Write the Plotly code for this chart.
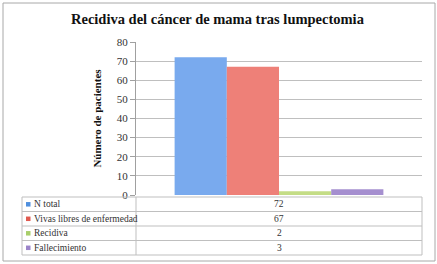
import plotly.graph_objects as go

# ---- data ----
series_names = ["N total", "Vivas libres de enfermedad", "Recidiva", "Fallecimiento"]
series_values = [72, 67, 2, 3]
category = [""]
y_ticks = [0, 10, 20, 30, 40, 50, 60, 70, 80]
title_text = "Recidiva del cáncer de mama tras lumpectomia"
y_title = "Número de pacientes"

bar_colors = ["#79AAEE", "#EE8078", "#C4DD86", "#A58FCF"]
key_colors = ["#4F8FDE", "#E05A50", "#A8CE6A", "#9B84C9"]

W, H = 437, 264
L, R, T, B = 136, 422, 42, 195  # plot area in pixels

def px(x):
    return (x - L) / (R - L)

def py(y):
    return (B - y) / (B - T)

FONT = "Liberation Serif"

fig = go.Figure()
for name, val, col in zip(series_names, series_values, bar_colors):
    fig.add_trace(go.Bar(x=category, y=[val], name=name, marker=dict(color=col, line=dict(width=0)),
                         showlegend=False))

shapes = []
annotations = []
grey = "#BFBFBF"

# outer border
shapes.append(dict(type="rect", xref="paper", yref="paper", x0=px(3), x1=px(435), y0=py(3), y1=py(261),
                   line=dict(color="#A8A8A8", width=1), layer="below"))

# table
row_y = [197, 211.5, 226, 240.5, 255]
tab_left, tab_sep, tab_right = 22, 136, 422
for yy in row_y:
    shapes.append(dict(type="line", xref="paper", yref="paper", x0=px(tab_left), x1=px(tab_right),
                       y0=py(yy), y1=py(yy), line=dict(color=grey, width=1)))
for xx in [tab_left, tab_sep, tab_right]:
    shapes.append(dict(type="line", xref="paper", yref="paper", x0=px(xx), x1=px(xx),
                       y0=py(row_y[0]), y1=py(row_y[-1]), line=dict(color=grey, width=1)))

for i, (name, val, kc) in enumerate(zip(series_names, series_values, key_colors)):
    yc = (row_y[i] + row_y[i + 1]) / 2
    shapes.append(dict(type="rect", xref="paper", yref="paper", x0=px(26), x1=px(30.5),
                       y0=py(yc + 2.3), y1=py(yc - 2.2), line=dict(width=0), fillcolor=kc))
    annotations.append(dict(text=name, xref="paper", yref="paper", x=px(31.5), y=py(yc),
                            xanchor="left", yanchor="middle", showarrow=False,
                            font=dict(family=FONT, size=9.5, color="#333333")))
    annotations.append(dict(text=str(val), xref="paper", yref="paper", x=px((tab_sep + tab_right) / 2), y=py(yc),
                            xanchor="center", yanchor="middle", showarrow=False,
                            font=dict(family=FONT, size=9.5, color="#333333")))

annotations.append(dict(text="<b>" + title_text + "</b>", xref="paper", yref="paper",
                        x=px(218), y=py(19), xanchor="center", yanchor="middle", showarrow=False,
                        font=dict(family=FONT, size=14.5, color="#111111")))

fig.update_layout(
    width=W, height=H,
    margin=dict(l=L, r=W - R, t=T, b=H - B),
    paper_bgcolor="white", plot_bgcolor="white",
    barmode="group", bargap=0.27, bargroupgap=0,
    xaxis=dict(showticklabels=False, showgrid=False, zeroline=False, showline=False, ticks=""),
    yaxis=dict(range=[0, 80], tickvals=y_ticks, showgrid=True, gridcolor=grey, gridwidth=1,
               showline=True, linecolor="#A0A0A0", linewidth=1, ticks="outside", ticklen=5,
               tickcolor="#A0A0A0", zeroline=False,
               tickfont=dict(family=FONT, size=11, color="#333333"),
               title=dict(text="<b>" + y_title + "</b>", standoff=12,
                          font=dict(family=FONT, size=11, color="#111111"))),
    shapes=shapes, annotations=annotations,
)

fig.write_html("out.html", config={"displayModeBar": False},
               post_script="document.body.style.margin='0px';")
